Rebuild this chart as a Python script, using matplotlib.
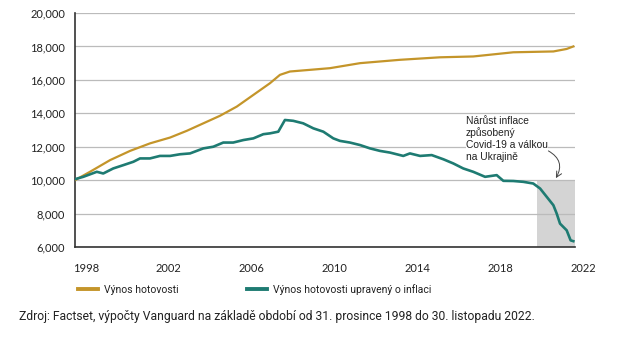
import matplotlib.pyplot as plt
from matplotlib.lines import Line2D
from matplotlib.transforms import blended_transform_factory

# Data (years as decimal positions on the chart, values in USD)
gold_x = [1999.00, 1999.72, 2000.69, 2001.65, 2002.61, 2003.58, 2004.38, 2005.18,
          2005.98, 2006.79, 2007.59, 2008.39, 2008.87, 2009.35, 2010.32, 2011.28,
          2012.73, 2014.65, 2016.58, 2018.18, 2020.11, 2022.04, 2022.68, 2023.00]
gold_y = [10000, 10500, 11200, 11750, 12200, 12550, 12950, 13400,
          13850, 14400, 15100, 15800, 16300, 16500, 16600, 16700,
          17000, 17200, 17350, 17400, 17650, 17700, 17850, 18000]

teal_x = [1999.00, 1999.40, 2000.05, 2000.36, 2000.84, 2001.33, 2001.81, 2002.13,
          2002.61, 2003.09, 2003.58, 2004.06, 2004.54, 2005.18, 2005.66, 2006.14,
          2006.62, 2007.11, 2007.59, 2008.07, 2008.39, 2008.79, 2009.11, 2009.51,
          2009.99, 2010.48, 2010.96, 2011.44, 2011.76, 2012.24, 2012.73, 2013.21,
          2013.69, 2014.17, 2014.81, 2015.13, 2015.62, 2016.18, 2016.74, 2017.22,
          2017.70, 2018.18, 2018.75, 2019.31, 2019.63, 2020.11, 2020.59, 2021.07,
          2021.40, 2021.72, 2022.04, 2022.20, 2022.36, 2022.68, 2022.87, 2023.00]
teal_y = [10060, 10200, 10500, 10400, 10700, 10900, 11100, 11300,
          11300, 11450, 11450, 11550, 11600, 11900, 12000, 12250,
          12250, 12400, 12500, 12750, 12800, 12900, 13600, 13550,
          13400, 13100, 12900, 12500, 12350, 12250, 12100, 11900,
          11750, 11650, 11450, 11600, 11450, 11500, 11250, 11000,
          10700, 10500, 10200, 10300, 9960, 9950, 9900, 9800,
          9500, 9000, 8500, 8000, 7400, 7000, 6400, 6350]

tick_labels = ["1998", "2002", "2006", "2010", "2014", "2018", "2022"]
tick_pos = [1999.53, 2003.52, 2007.51, 2011.50, 2015.49, 2019.48, 2023.47]
y_ticks = [6000, 8000, 10000, 12000, 14000, 16000, 18000, 20000]

shade_x = [2021.23, 2023.08]
shade_top = 10000

GOLD = "#C4952A"
TEAL = "#1E7B72"
GRAY = "#D4D4D4"
TXT = "#222222"

fig = plt.figure(figsize=(6.22, 3.37), dpi=100)
ax = fig.add_axes([0.1206, 0.267, 0.8038, 0.6944])

ax.fill_between(shade_x, 6000, shade_top, color=GRAY, linewidth=0, zorder=0.4)
ax.plot(gold_x, gold_y, color=GOLD, linewidth=1.6, zorder=3)
ax.plot(teal_x, teal_y, color=TEAL, linewidth=1.9, zorder=3)

ax.set_xlim(1999.0, 2023.08)
ax.set_ylim(6000, 20000)
ax.set_yticks(y_ticks)
ax.set_yticklabels([f"{v:,}" for v in y_ticks], fontfamily="Lato", fontsize=8, color=TXT)
ax.tick_params(axis="y", length=0, pad=7)
ax.set_xticks([])
ax.grid(axis="y", color="#BBBBBB", linewidth=0.9)
ax.set_axisbelow(True)

for s in ["top", "right"]:
    ax.spines[s].set_visible(False)
for s in ["left", "bottom"]:
    ax.spines[s].set_color("#333333")
    ax.spines[s].set_linewidth(1.2)

# x labels sit off the data grid in the original, so place them as text
trans = blended_transform_factory(ax.transData, ax.transAxes)
for p, lab in zip(tick_pos, tick_labels):
    ax.text(p, -0.09, lab, transform=trans, ha="center", va="center",
            fontfamily="Lato", fontsize=8, color=TXT, clip_on=False)

# annotation
ax.text(2017.82, 13850, "Nárůst inflace\nzpůsobený\nCovid-19 a válkou\nna Ukrajině",
        ha="left", va="top", fontfamily="Liberation Sans", fontsize=7.4, color=TXT,
        linespacing=1.2, zorder=2,
        bbox=dict(facecolor="white", edgecolor="none", pad=0))
ax.annotate("", xy=(2022.16, 10120), xytext=(2021.8, 11750),
            arrowprops=dict(arrowstyle="->", color="#444444", linewidth=0.7,
                            connectionstyle="arc3,rad=-0.5", shrinkA=0, shrinkB=0))

handles = [Line2D([], [], color=GOLD, linewidth=2.8),
           Line2D([], [], color=TEAL, linewidth=2.8)]
fig.legend(handles, ["Výnos hotovosti", "Výnos hotovosti upravený o inflaci"],
           loc="center left", bbox_to_anchor=(0.11, 0.142), ncol=2, frameon=False,
           prop={"family": "Roboto", "size": 7.5}, handlelength=1.9,
           handletextpad=0.6, columnspacing=6.6, labelcolor=TXT)

fig.text(0.03, 0.062, "Zdroj: Factset, výpočty Vanguard na základě období od 31. prosince 1998 do 30. listopadu 2022.",
         fontfamily="Roboto", fontsize=8.7, color=TXT, ha="left", va="center")

fig.savefig("out.png", dpi=100)
